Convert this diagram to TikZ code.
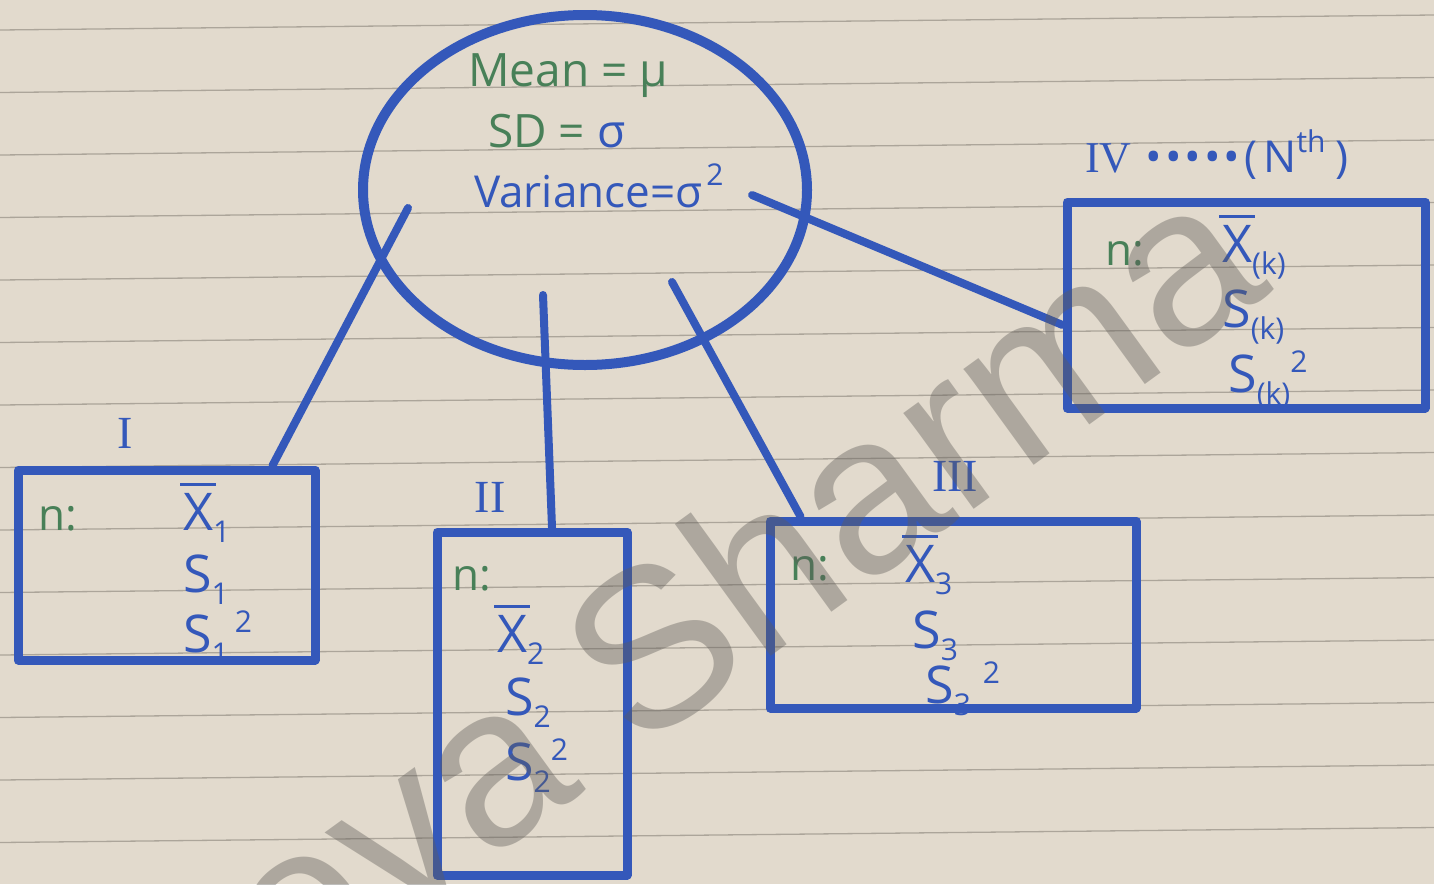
\documentclass[tikz,border=0pt]{standalone}
\usepackage{fontspec}
\setmainfont{Open Sans}
\newfontfamily\romfont{Liberation Serif}
\newfontfamily\wmfont{Liberation Sans}
\usetikzlibrary{calc,shapes.geometric}
\definecolor{paper}{RGB}{226,218,205}
\definecolor{rulecol}{RGB}{172,165,154}
\definecolor{ink}{RGB}{52,88,186}
\definecolor{ingreen}{RGB}{72,128,88}
\definecolor{wm}{RGB}{95,92,88}
\newcommand\subs[1]{\raisebox{-12pt}{\fontsize{30}{30}\selectfont #1}}
\newcommand\sups[1]{\raisebox{20pt}{\fontsize{30}{30}\selectfont #1}}
\newcommand\xbar{\rlap{\hspace{-3pt}\raisebox{44pt}{\rule{36pt}{3.5pt}}}X}
\begin{document}
\begin{tikzpicture}[x=1pt,y=-1pt,
  box/.style={draw=ink, line width=9pt, rectangle, inner sep=0pt, line join=round},
  conn/.style={draw=ink, line width=8pt, line cap=round},
  txt/.style={text=ink, font=\fontsize{44}{48}\selectfont, inner sep=0pt},
  btxt/.style={text=ink, font=\fontsize{52}{56}\selectfont, inner sep=0pt},
  gtxt/.style={text=ingreen, font=\fontsize{44}{48}\selectfont, inner sep=0pt},
  rom/.style={text=ink, font=\romfont\fontsize{46}{46}\selectfont, inner sep=0pt},
]
\fill[paper] (0,0) rectangle (1434,884);
\useasboundingbox (0,0) rectangle (1434,884);
\foreach \i in {0,...,13} \draw[rulecol, line width=1.3pt] (0,{30+62.5*\i}) -- (1434,{15+62.5*\i});

% population ellipse
\node[draw=ink, line width=10pt, ellipse, minimum width=444pt, minimum height=350pt, inner sep=0pt] (pop) at (585,190) {};
\node[gtxt, anchor=base west, font=\fontsize{46}{48}\selectfont] (mean) at (468,86) {Mean = μ};
\node[gtxt, anchor=base west, font=\fontsize{46}{48}\selectfont] (sd) at (488,147) {SD = \textcolor{ink}{σ}};
\node[txt, anchor=base west] (var) at (474,207) {Variance=σ\hspace{4pt}\raisebox{22pt}{\fontsize{30}{30}\selectfont 2}};

% sample boxes
\node[box, minimum width=297pt, minimum height=190pt] (bI) at (166.5,565) {};
\node[box, minimum width=190pt, minimum height=343pt] (bII) at (532,703.5) {};
\node[box, minimum width=366pt, minimum height=187pt] (bIII) at (953,614.5) {};
\node[box, minimum width=358pt, minimum height=206pt] (bIV) at (1246,305) {};

% labels
\node[rom] (lI) at (125,433) {I};
\node[rom] (lII) at (490,497) {II};
\node[rom] (lIII) at (955,476) {III};
\node[txt, anchor=base west] (lIV) at (1085,172) {{\romfont IV}\hspace{14pt}•\hspace{3pt}•\hspace{3pt}•\hspace{3pt}•\hspace{3pt}•\hspace{4pt}(\hspace{6pt}N\sups{th}\hspace{10pt})};

% box I
\node[gtxt, anchor=base west] (nI) at (38,530) {n:};
\node[btxt, anchor=base west] (xI) at (183,530) {\xbar\subs{1}};
\node[btxt, anchor=base west] (sI) at (183,592) {S\subs{1}};
\node[btxt, anchor=base west] (vI) at (183,652) {S\subs{1}\hspace{6pt}\sups{2}};

% box II
\node[gtxt, anchor=base west] (nII) at (452,590) {n:};
\node[btxt, anchor=base west] (xII) at (497,652) {\xbar\subs{2}};
\node[btxt, anchor=base west] (sII) at (505,715) {S\subs{2}};
\node[btxt, anchor=base west] (vII) at (505,780) {S\subs{2}\sups{2}};

% box III
\node[gtxt, anchor=base west] (nIII) at (790,580) {n:};
\node[btxt, anchor=base west] (xIII) at (905,582) {\xbar\subs{3}};
\node[btxt, anchor=base west] (sIII) at (912,648) {S\subs{3}};
\node[btxt, anchor=base west] (vIII) at (925,703) {S\subs{3}\hspace{12pt}\sups{2}};

% box IV
\node[gtxt, anchor=base west] (nIV) at (1105,265) {n:};
\node[btxt, anchor=base west] (xIV) at (1222,262) {\xbar\subs{(k)}};
\node[btxt, anchor=base west] (sIV) at (1222,327) {S\subs{(k)}};
\node[btxt, anchor=base west] (vIV) at (1228,392) {S\subs{(k)}\sups{2}};

% connectors
\coordinate (cI) at (408,208);
\coordinate (cII) at (543,295);
\coordinate (cIII) at (672,282);
\coordinate (cIV) at (752,195);
\draw[conn] (cI) -- ([xshift=-47pt]bI.north east);
\draw[conn] (cII) -- ([xshift=20pt]bII.north);
\draw[conn] (cIII) -- ([xshift=35pt]bIII.north west);
\draw[conn] (cIV) -- ([yshift=-20pt]bIV.west);

% watermark
\begin{scope}
\clip (0,0) rectangle (1434,884);
\node[text=wm, opacity=0.4, rotate=36, font=\wmfont\fontsize{225}{225}\selectfont, anchor=base east, inner sep=0pt] (wmark) at (1275,290) {Shreya Sharma};
\end{scope}
\end{tikzpicture}
\end{document}
